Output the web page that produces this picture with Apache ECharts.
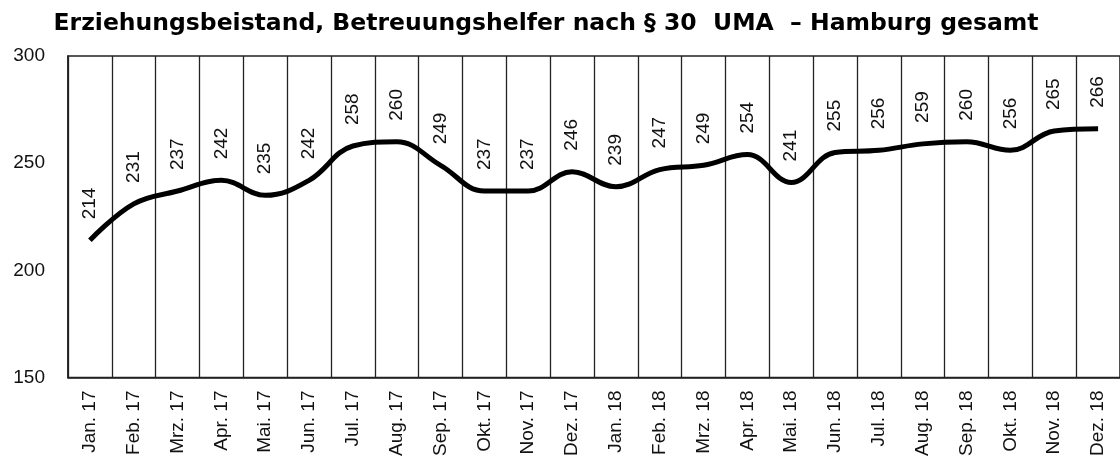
<!DOCTYPE html>
<html>
<head>
<meta charset="utf-8">
<script src="https://cdn.jsdelivr.net/npm/echarts@6/dist/echarts.min.js"></script>
<style>
  html, body { margin: 0; padding: 0; background: #fff; }
  #chart { width: 1120px; height: 459px; }
</style>
</head>
<body>
<div id="chart"></div>
<script>
// Monate
const months = ['Jan. 17', 'Feb. 17', 'Mrz. 17', 'Apr. 17', 'Mai. 17', 'Jun. 17',
  'Jul. 17', 'Aug. 17', 'Sep. 17', 'Okt. 17', 'Nov. 17', 'Dez. 17',
  'Jan. 18', 'Feb. 18', 'Mrz. 18', 'Apr. 18', 'Mai. 18', 'Jun. 18',
  'Jul. 18', 'Aug. 18', 'Sep. 18', 'Okt. 18', 'Nov. 18', 'Dez. 18']
// Fallzahlen
const cases = [214, 231, 237, 242, 235, 242, 258, 260, 249, 237, 237, 246,
  239, 247, 249, 254, 241, 255, 256, 259, 260, 256, 265, 266]

const titleText = 'Erziehungsbeistand, Betreuungshelfer nach § 30  UMA  – Hamburg gesamt'
const font = 'Liberation Sans, Arial, sans-serif'

const chart = echarts.init(document.getElementById('chart'))

const option = {
  backgroundColor: '#ffffff',
  animation: false,
  title: {
    text: titleText,
    left: 541,
    textAlign: 'center',
    top: 7,
    textStyle: { fontFamily: 'DejaVu Sans', fontSize: 23.5, fontWeight: 'bold', color: '#000' }
  },
  grid: {
    left: 68,
    right: -3,
    top: 56,
    bottom: 79,
    show: true,
    borderColor: '#222',
    borderWidth: 1.5
  },
  xAxis: {
    type: 'category',
    data: months,
    boundaryGap: true,
    axisLine: { lineStyle: { color: '#222', width: 1.5 } },
    axisTick: { show: false },
    splitLine: { show: true, lineStyle: { color: '#222', width: 1.3 } },
    axisLabel: {
      rotate: 90,
      interval: 0,
      margin: 13,
      fontFamily: font,
      fontSize: 19,
      color: '#111'
    }
  },
  yAxis: {
    type: 'value',
    min: 150,
    max: 300,
    interval: 50,
    axisLine: { show: true, lineStyle: { color: '#222', width: 1.5 } },
    axisTick: { show: false },
    splitLine: { show: false },
    axisLabel: { margin: 23, fontFamily: font, fontSize: 19, color: '#111' }
  },
  series: [{
    type: 'line',
    data: cases,
    smooth: 0.4,
    showSymbol: true,
    symbol: 'circle',
    symbolSize: 2,
    itemStyle: { color: 'rgba(0,0,0,0)' },
    lineStyle: { color: '#000', width: 5 },
    label: {
      show: true,
      position: 'top',
      rotate: 90,
      align: 'left',
      verticalAlign: 'middle',
      distance: 20,
      fontFamily: font,
      fontSize: 19,
      color: '#111'
    }
  }]
}

chart.setOption(option)
</script>
</body>
</html>
